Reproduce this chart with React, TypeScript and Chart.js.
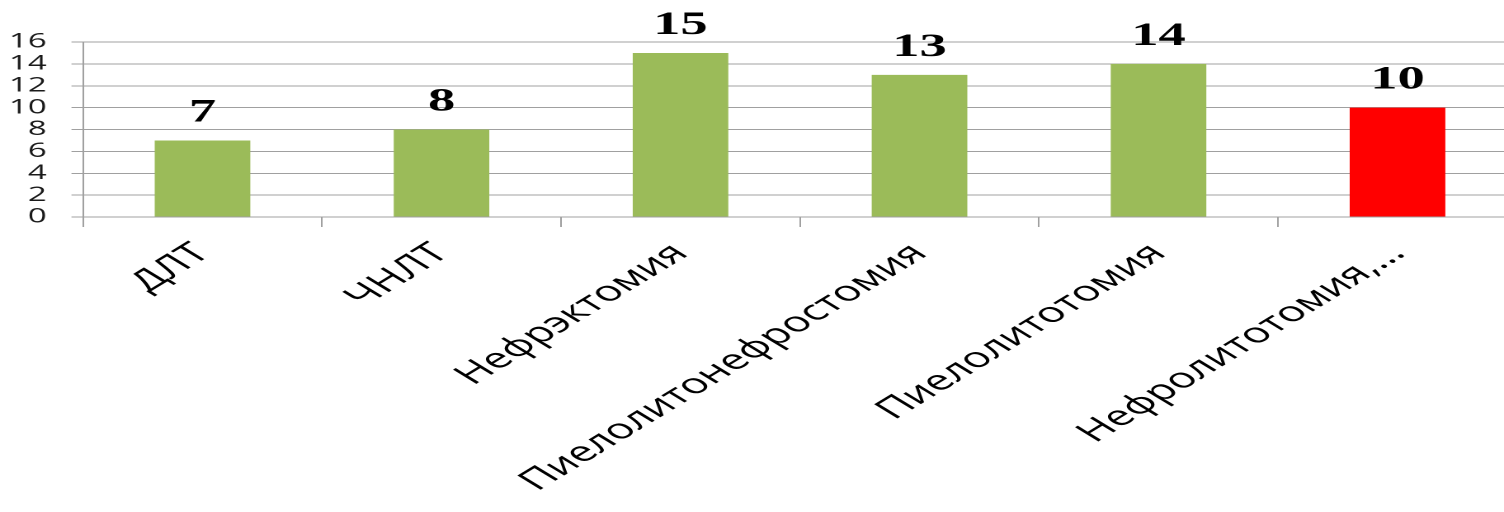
import React, { useEffect, useRef } from "react";
import { Chart, registerables } from "chart.js";

Chart.register(...registerables);

const categories = [
  "ДЛТ",
  "ЧНЛТ",
  "Нефрэктомия",
  "Пиелолитонефростомия",
  "Пиелолитотомия",
  "Нефролитотомия,…",
];
const values = [7, 8, 15, 13, 14, 10];
const barColors = ["#9BBB59", "#9BBB59", "#9BBB59", "#9BBB59", "#9BBB59", "#FF0000"];
const yMin = 0;
const yMax = 16;
const yStep = 2;

const STRETCH = 1.65;
const CANVAS_W = 925;
const CANVAS_H = 512;

const valueLabels = {
  id: "valueLabels",
  afterDatasetsDraw(chart: any) {
    const ctx = chart.ctx;
    const meta = chart.getDatasetMeta(0);
    ctx.save();
    ctx.font = 'bold 33px "Liberation Serif", "Times New Roman", serif';
    ctx.fillStyle = "#000";
    ctx.textAlign = "center";
    ctx.textBaseline = "alphabetic";
    meta.data.forEach((bar: any, i: number) => {
      ctx.fillText(String(values[i]), bar.x, bar.y - 19);
    });
    ctx.restore();
  },
};

export default function App() {
  const ref = useRef<HTMLCanvasElement | null>(null);

  useEffect(() => {
    if (!ref.current) return;
    const chart = new Chart(ref.current, {
      type: "bar",
      data: {
        labels: categories,
        datasets: [
          {
            data: values,
            backgroundColor: barColors,
            borderWidth: 0,
            barPercentage: 0.4,
            categoryPercentage: 1,
          },
        ],
      },
      options: {
        animation: false,
        responsive: true,
        maintainAspectRatio: false,
        devicePixelRatio: 2,
        layout: { padding: { top: 42, right: CANVAS_W - 1517 / STRETCH, bottom: 0, left: 0 } },
        plugins: { legend: { display: false }, tooltip: { enabled: false } },
        scales: {
          x: {
            afterFit(scale: any) {
              scale.height = 295;
            },
            grid: {
              drawOnChartArea: false,
              drawTicks: true,
              tickLength: 10,
              color: "#a0a0a0",
              offset: true,
            },
            border: { display: true, color: "#a0a0a0" },
            ticks: {
              autoSkip: false,
              maxRotation: 45,
              minRotation: 45,
              padding: 10,
              color: "#000",
              font: { family: '"Open Sans", sans-serif', size: 28 },
            },
          },
          y: {
            min: yMin,
            max: yMax,
            afterFit(scale: any) {
              scale.width = 83 / STRETCH;
            },
            grid: { color: "#a0a0a0", tickLength: 7, drawTicks: true },
            border: { display: true, color: "#a0a0a0" },
            ticks: {
              autoSkip: false,
              stepSize: yStep,
              padding: 15,
              color: "#1a1a1a",
              font: { family: '"Open Sans", sans-serif', size: 20, lineHeight: 1 },
            },
          },
        },
      },
      plugins: [valueLabels],
    });
    return () => chart.destroy();
  }, []);

  return (
    <div
      style={{
        position: "absolute",
        left: 0,
        top: 0,
        width: 1504,
        height: 512,
        overflow: "hidden",
        background: "#fff",
      }}
    >
      <div
        style={{
          position: "relative",
          width: CANVAS_W,
          height: CANVAS_H,
          transform: `scaleX(${STRETCH})`,
          transformOrigin: "0 0",
        }}
      >
        <canvas ref={ref} />
      </div>
    </div>
  );
}
